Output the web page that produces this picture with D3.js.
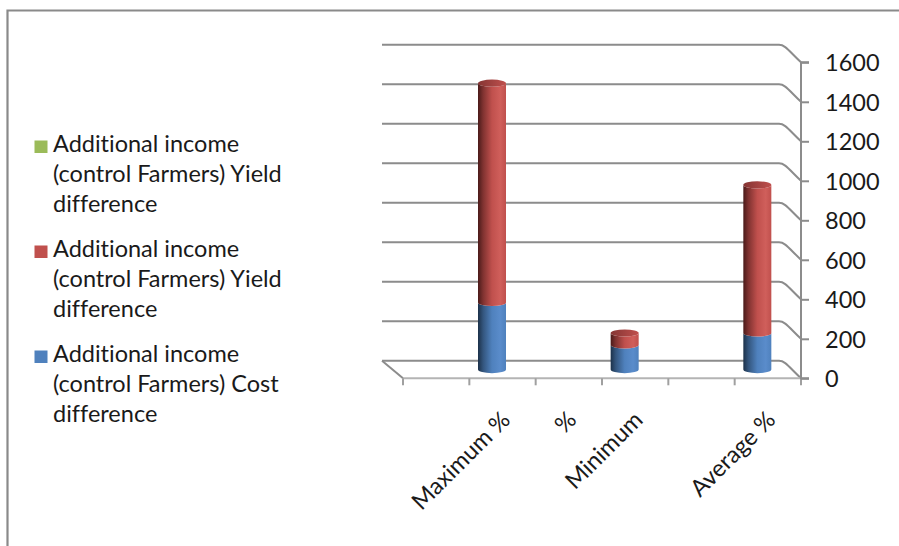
<!DOCTYPE html>
<html>
<head>
<meta charset="utf-8">
<script src="https://cdn.jsdelivr.net/npm/d3@7"></script>
<style>
  html, body { margin: 0; padding: 0; background: #fff; }
  svg { display: block; }
  text { font-family: Lato, "Open Sans", sans-serif; fill: #1a1a1a; font-variant-ligatures: none; }
</style>
</head>
<body>
<svg id="chart" width="899" height="546"></svg>
<script>
// Categories along the floor (two empty slots are part of the category axis)
const categories = ["", "Maximum %", "%", "Minimum", "", "Average %"];
// Stacked series, bottom to top
const costDifference   = [0, 340, 0, 125, 0, 185];
const yieldDifferenceA = [0, 1110, 0, 60, 0, 750];
const yieldDifferenceB = [0, 0, 0, 0, 0, 0];
const yTicks = [0, 200, 400, 600, 800, 1000, 1200, 1400, 1600];

const seriesColors = ["#4f81bd", "#c0504d", "#9bbb59"];
const seriesDark   = ["#1c3149", "#4a1a19", "#3d4c22"];
const seriesLight  = ["#5a8ccb", "#d05f5b", "#a9c96a"];
const seriesValues = [costDifference, yieldDifferenceA, yieldDifferenceB];
const legendLines = [
  ["Additional income", "(control Farmers) Cost", "difference"],
  ["Additional income", "(control Farmers) Yield", "difference"],
  ["Additional income", "(control Farmers) Yield", "difference"]
];

const svg = d3.select("#chart");
const fontSize = "23.5px";

// Outer frame (top and left edges)
svg.append("path")
  .attr("d", "M7.5,546 V10.5 H899")
  .attr("fill", "none").attr("stroke", "#8a8a8a").attr("stroke-width", 2.2);

// 3D projection: front plane scales plus a depth offset to the back wall
const depthDx = -21, depthDy = -17.5;
const x = d3.scaleBand().domain(d3.range(categories.length)).range([403, 801]);
const y = d3.scaleLinear().domain([0, 1600]).range([378.3, 62.3]);
const axisX = x.range()[1];

const grid = svg.append("g");
// Back-wall gridlines bending to the front axis
yTicks.forEach(v => {
  const yf = y(v), yb = yf + depthDy;
  const xl = x.range()[0] + depthDx, xr = axisX + depthDx;
  grid.append("path")
    .attr("d", `M${xl},${yb} H${xr - 1} C${xr + 5},${yb} ${xr + 8},${yb + 5} ${axisX},${yf}`)
    .attr("fill", "none").attr("stroke", "#8c8c8c").attr("stroke-width", 2);
});
// Floor: left depth edge and front edge
grid.append("path")
  .attr("d", `M${x.range()[0] + depthDx},${y(0) + depthDy} L${x.range()[0]},${y(0)}`)
  .attr("fill", "none").attr("stroke", "#8c8c8c").attr("stroke-width", 2);
grid.append("path")
  .attr("d", `M${x.range()[0]},${y(0)} H${axisX}`)
  .attr("fill", "none").attr("stroke", "#b4b4b4").attr("stroke-width", 2);
// Category tick marks
d3.range(categories.length + 1).forEach(i => {
  const tx = x.range()[0] + i * x.bandwidth();
  grid.append("line")
    .attr("x1", tx).attr("x2", tx).attr("y1", y(0)).attr("y2", y(0) + 7)
    .attr("stroke", "#a0a0a0").attr("stroke-width", 2);
});

// Value axis on the right
const yAxis = d3.axisRight(y).tickValues(yTicks).tickSize(8).tickPadding(16).tickFormat(d3.format("d"));
const yg = svg.append("g").attr("transform", `translate(${axisX},0)`).call(yAxis);
yg.select(".domain").attr("stroke", "#8c8c8c").attr("stroke-width", 2)
  .attr("d", `M8,${y(1600)}H0V${y(0)}H8`);
yg.selectAll(".tick line").attr("stroke", "#8c8c8c").attr("stroke-width", 2);
yg.selectAll(".tick text").style("font-size", fontSize).attr("fill", "#1a1a1a")
  .attr("font-family", "Lato, 'Open Sans', sans-serif").attr("dy", "0.36em");

// Cylinder gradients
const defs = svg.append("defs");
seriesColors.forEach((c, i) => {
  const g = defs.append("linearGradient").attr("id", "body" + i)
    .attr("x1", "0%").attr("x2", "100%").attr("y1", "0%").attr("y2", "0%");
  g.append("stop").attr("offset", "0%").attr("stop-color", seriesDark[i]);
  g.append("stop").attr("offset", "18%").attr("stop-color", d3.interpolateRgb(seriesDark[i], c)(0.45));
  g.append("stop").attr("offset", "50%").attr("stop-color", c);
  g.append("stop").attr("offset", "80%").attr("stop-color", seriesLight[i]);
  g.append("stop").attr("offset", "100%").attr("stop-color", c);
  const t = defs.append("linearGradient").attr("id", "cap" + i)
    .attr("x1", "0%").attr("x2", "100%").attr("y1", "0%").attr("y2", "0%");
  t.append("stop").attr("offset", "0%").attr("stop-color", d3.interpolateRgb(seriesDark[i], c)(0.5));
  t.append("stop").attr("offset", "60%").attr("stop-color", d3.interpolateRgb(c, seriesDark[i])(0.2));
  t.append("stop").attr("offset", "100%").attr("stop-color", c);
});

// Stacked cylinders drawn at mid depth
const stackData = categories.map((c, i) => {
  const o = { i };
  seriesValues.forEach((s, k) => o["s" + k] = s[i]);
  return o;
});
const stacked = d3.stack().keys(seriesValues.map((s, k) => "s" + k))(stackData);
const rx = 14, ry = 3.6;
const bars = svg.append("g");
stacked.forEach((layer, k) => {
  layer.forEach(seg => {
    const [v0, v1] = seg;
    if (v1 - v0 <= 0) return;
    const i = seg.data.i;
    const cx = x(i) + x.bandwidth() / 2 + depthDx / 2;
    const yb = y(v0) + depthDy / 2, yt = y(v1) + depthDy / 2;
    bars.append("path")
      .attr("d", `M${cx - rx},${yt} V${yb} A${rx},${ry} 0 0 0 ${cx + rx},${yb} V${yt} A${rx},${ry} 0 0 1 ${cx - rx},${yt} Z`)
      .attr("fill", `url(#body${k})`);
  });
});
// Caps on top of each stack
stackData.forEach(d => {
  let top = null, k = -1;
  stacked.forEach((layer, j) => { if (layer[d.i][1] - layer[d.i][0] > 0) { top = layer[d.i][1]; k = j; } });
  if (top === null) return;
  const cx = x(d.i) + x.bandwidth() / 2 + depthDx / 2;
  bars.append("ellipse")
    .attr("cx", cx).attr("cy", y(top) + depthDy / 2).attr("rx", rx).attr("ry", ry)
    .attr("fill", `url(#cap${k})`);
});

// Category labels, rotated
svg.append("g").selectAll("text").data(categories).join("text")
  .attr("transform", (d, i) => `translate(${x(i) + x.bandwidth() / 2 + 9},${y(0) + 43}) rotate(-45)`)
  .attr("text-anchor", "end")
  .style("font-size", fontSize)
  .text(d => d);

// Legend (top series listed first)
const legendItems = [2, 1, 0];
const legend = svg.append("g");
legendItems.forEach((k, n) => {
  const top = 152 + n * 105;
  legend.append("rect").attr("x", 34.5).attr("y", top - 11.5).attr("width", 13).attr("height", 12.5)
    .attr("fill", seriesColors[k]);
  const t = legend.append("text").attr("x", 53).attr("y", top).style("font-size", fontSize);
  legendLines[k].forEach((p, j) => t.append("tspan").attr("x", 53).attr("y", top + j * 30).text(p));
});
</script>
</body>
</html>
